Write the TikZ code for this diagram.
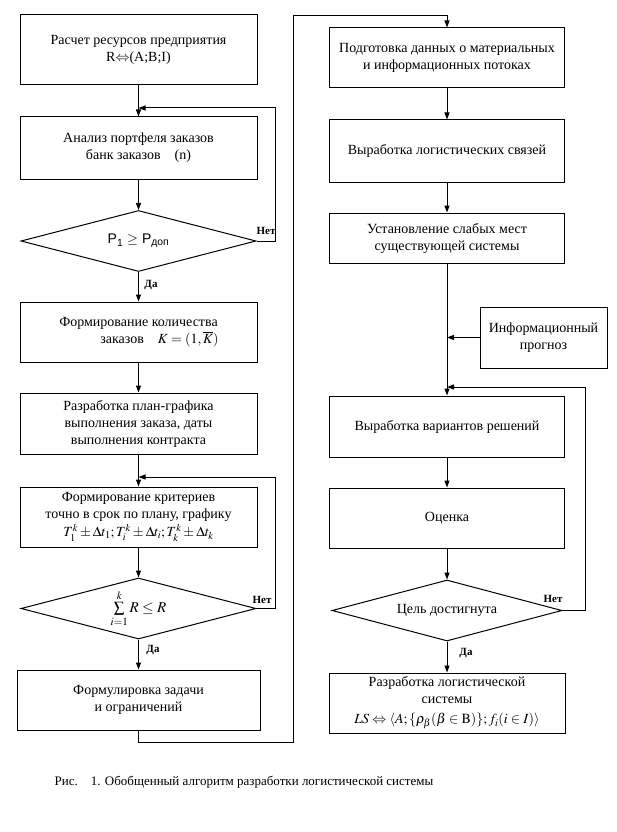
\documentclass[tikz,border=0pt]{standalone}
\usepackage{mathptmx}
\usepackage{fontspec}
\setmainfont{Liberation Serif}
\setsansfont{Liberation Sans}
\usetikzlibrary{arrows.meta, positioning, calc, shapes}

\begin{document}
\begin{tikzpicture}[x=1pt, y=-1pt, line width=1pt,
    >={Triangle[length=7pt,width=5pt]},
    box/.style={draw, minimum width=237pt, inner sep=2pt, align=center,
        font=\fontsize{14}{17}\selectfont},
    cond/.style={draw, diamond, aspect=4, inner sep=0pt, minimum width=235pt,
        minimum height=61pt, font=\fontsize{14}{17}\selectfont},
    lbl/.style={font=\fontsize{11}{13}\selectfont\bfseries}]
        \useasboundingbox (0,0) rectangle (617,832);

        % Define the left column
        \node[box, minimum height=70pt] (rasch) at (138.5,50) {Расчет ресурсов предприятия\\R$\Leftrightarrow$(A;B;I)};
        \node[box, minimum height=62pt] (analiz) at (138.5,148) {Анализ портфеля заказов\\банк заказов\quad(n)};
        \node[cond] (dia1) at (138.5,241) {\sffamily P\textsubscript{1} $\geq$ P\textsubscript{доп}};
        \node[box, minimum height=60pt] (formK) at (138.5,332) {Формирование количества\\\hspace*{3em}заказов\quad $K=(1,\overline{K})$};
        \node[box, minimum height=61pt] (plan) at (138.5,423.5) {Разработка план-графика\\выполнения заказа, даты\\выполнения контракта};
        \node[box, minimum height=60pt] (krit) at (138.5,517) {Формирование критериев\\точно в срок по плану, графику\\[1pt]$T_1^k\pm\Delta t_1; T_i^k\pm\Delta t_i; T_k^k\pm\Delta t_k$};
        \node[cond, font=\fontsize{15}{17}\selectfont] (dia2) at (138.5,608.5) {$\sum\limits_{i=1}^{k} R\leq R$};
        \node[box, minimum width=243pt, minimum height=60pt] (formul) at (138.5,700) {Формулировка задачи\\и ограничений};

        % Define the right column
        \node[box, minimum width=235pt, minimum height=60pt] (podg) at (447,58) {Подготовка данных о материальных\\и информационных потоках};
        \node[box, minimum width=235pt, minimum height=62pt] (svyaz) at (447,151) {Выработка логистических связей};
        \node[box, minimum width=235pt, minimum height=50pt] (slab) at (447,238) {Установление слабых мест\\существующей системы};
        \node[box, minimum width=127pt, minimum height=61pt] (info) at (543.5,337.5) {Информационный\\прогноз};
        \node[box, minimum width=235pt, minimum height=61pt] (variant) at (447,426.5) {Выработка вариантов решений};
        \node[box, minimum width=235pt, minimum height=60pt] (ocenka) at (447,518) {Оценка};
        \node[cond, minimum width=230pt] (dia3) at (447,610.5) {Цель достигнута};
        \node[box, minimum width=236pt, minimum height=60pt] (razr) at (447,703) {Разработка логистической\\системы\\[3pt]$LS\Leftrightarrow\langle A;\{\rho_\beta(\beta\in\mathrm{B})\};f_i(i\in I)\rangle$};

        % Turning points
        \coordinate (loop1) at (138.5,108);
        \coordinate (net1) at (275,108);
        \coordinate (loop2) at (138.5,477);
        \coordinate (net2) at (275,477);
        \coordinate (turnA) at (293,742);
        \coordinate (turnB) at (447,16);
        \coordinate (loop3) at (447,387);
        \coordinate (net3) at (585,387);

        % Draw arrows
        \draw[->] (rasch) -- (analiz);
        \draw[->] (analiz) -- (dia1);
        \draw[->] (dia1) -- (formK);
        \draw[->] (formK) -- (plan);
        \draw[->] (plan) -- (krit);
        \draw[->] (krit) -- (dia2);
        \draw[->] (dia2) -- (formul);
        \draw[->] (dia1.east) -| (net1) -- (loop1);
        \draw[->] (dia2.east) -| (net2) -- (loop2);
        \draw[->] (formul.south) |- (turnA) |- (turnB) -- (podg.north);
        \draw[->] (podg) -- (svyaz);
        \draw[->] (svyaz) -- (slab);
        \draw[->] (slab) -- (variant);
        \draw[->] (info.west) -- (info.west -| slab.south);
        \draw[->] (variant) -- (ocenka);
        \draw[->] (ocenka) -- (dia3);
        \draw[->] (dia3) -- (razr);
        \draw[->] (dia3.east) -| (net3) -- (loop3);

        % Labels
        \node[lbl] (no1) at (266,231) {Нет};
        \node[lbl] (yes1) at (151,285) {Да};
        \node[lbl] (no2) at (262,600) {Нет};
        \node[lbl] (yes2) at (153,650) {Да};
        \node[lbl] (no3) at (553,599) {Нет};
        \node[lbl] (yes3) at (466,653) {Да};

        % Caption
        \node[font=\fontsize{13}{16}\selectfont] (caption) at (244,782) {Рис.\quad 1. Обобщенный алгоритм разработки логистической системы};
    \end{tikzpicture}
\end{document}
